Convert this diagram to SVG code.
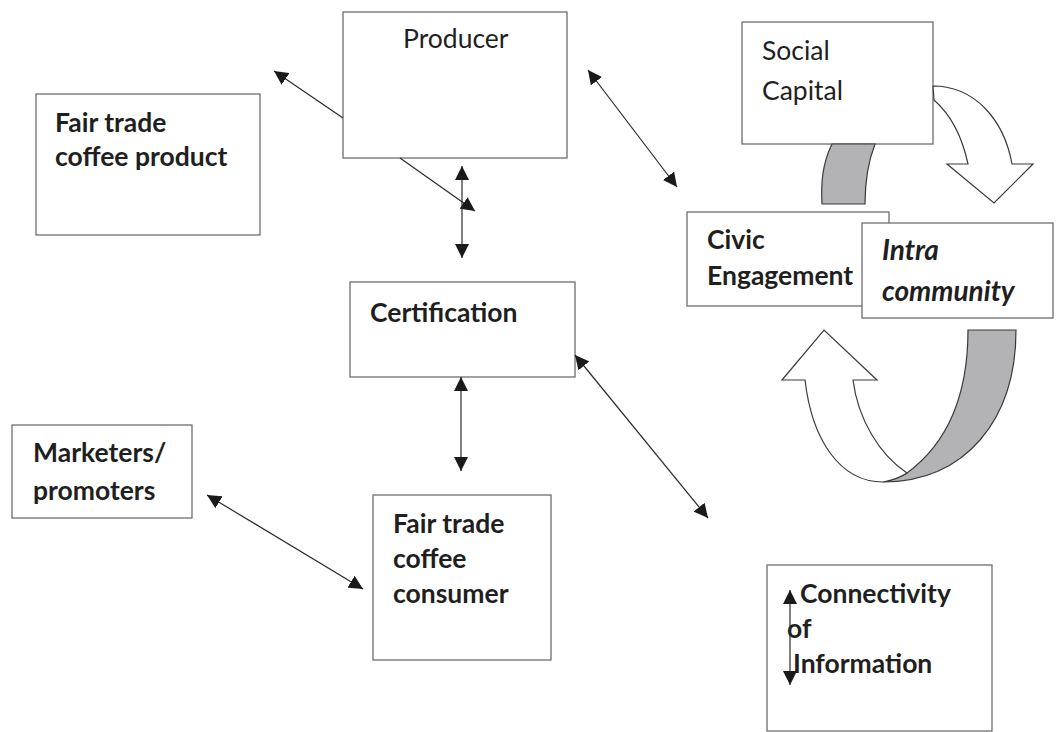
<svg xmlns="http://www.w3.org/2000/svg" width="1057" height="732" viewBox="0 0 1057 732">
<defs>
<style>
.box{fill:#fff;stroke:#6e6e6e;stroke-width:1.3}
.t{font-family:Lato,"Liberation Sans",sans-serif;font-size:26.5px;fill:#1f1f1f}
.b{font-weight:bold}
.i{font-style:italic;font-size:28px}
.ln{stroke:#2a2a2a;stroke-width:1.2;fill:none}
.cw{fill:#fff;stroke:#3a3a3a;stroke-width:1.2}
.cg{fill:#b3b3b6;stroke:#3a3a3a;stroke-width:1.2}
</style>
<marker id="ah" viewBox="0 0 10 10" refX="10" refY="5" markerWidth="14" markerHeight="14" markerUnits="userSpaceOnUse" orient="auto-start-reverse">
<path d="M0,0 L10,5 L0,10 Z" fill="#1a1a1a"/>
</marker>
</defs>
<rect width="1057" height="732" fill="#fff"/>

<g id="producer"><rect class="box" x="343" y="12" width="224" height="146"/><text class="t" x="403" y="48">Producer</text></g>
<g id="product"><rect class="box" x="36" y="94" width="224" height="141"/><text class="t b" x="55" y="132">Fair trade</text><text class="t b" x="55" y="166">coffee product</text></g>
<g id="social"><rect class="box" x="742" y="22" width="191" height="122"/><text class="t" x="762" y="60">Social</text><text class="t" x="762" y="100">Capital</text></g>
<g id="civic"><rect class="box" x="687" y="212" width="202" height="94"/><text class="t b" x="707" y="249">Civic</text><text class="t b" x="707" y="285">Engagement</text></g>
<g id="intra"><rect class="box" x="862" y="223" width="191" height="95"/><text class="t b i" x="882" y="260">Intra</text><text class="t b i" x="882" y="301">community</text></g>
<g id="certification"><rect class="box" x="350" y="282" width="225" height="95"/><text class="t b" x="370" y="322">Certification</text></g>
<g id="marketers"><rect class="box" x="12" y="425" width="180" height="93"/><text class="t b" x="33" y="462">Marketers/</text><text class="t b" x="33" y="500">promoters</text></g>
<g id="consumer"><rect class="box" x="373" y="495" width="178" height="165"/><text class="t b" x="393" y="533">Fair trade</text><text class="t b" x="393" y="568">coffee</text><text class="t b" x="393" y="603">consumer</text></g>
<g id="connectivity"><rect class="box" x="767" y="565" width="225" height="166"/><text class="t b" x="800" y="603">Connectivity</text><text class="t b" x="787" y="638">of</text><text class="t b" x="793" y="673">Information</text><line class="ln" x1="790" y1="590" x2="790" y2="685" marker-start="url(#ah)" marker-end="url(#ah)"/></g>

<g id="cycle">
<path class="cw" d="M933,86 C975,86 1004,120 1012,164 L1033,164 L994,203 L947,164 L968,164 C962,136 950,114 934,100 Z"/>
<path class="cg" d="M832,144 C822,164 821,184 822,204 L865,204 C865,182 868,162 875,144 Z"/>
<path class="cg" d="M968,330 L1016,330 C1016,420 965,482 883,482 C893,480 901,477 907,473 C945,445 968,400 968,330 Z"/>
<path class="cw" d="M883,482 C840,482 812,440 805,380 L782,380 L824,330 L877,380 L853,380 C858,420 880,455 907,473 C901,477 893,480 883,482 Z"/>
</g>

<g id="connectors">
<line class="ln" x1="343" y1="118" x2="274" y2="71" marker-end="url(#ah)"/>
<line class="ln" x1="400" y1="158" x2="475" y2="211" marker-end="url(#ah)"/>
<line class="ln" x1="462" y1="166" x2="462" y2="258" marker-start="url(#ah)" marker-end="url(#ah)"/>
<line class="ln" x1="588" y1="70" x2="677" y2="187" marker-start="url(#ah)" marker-end="url(#ah)"/>
<line class="ln" x1="461" y1="377" x2="461" y2="471" marker-start="url(#ah)" marker-end="url(#ah)"/>
<line class="ln" x1="575" y1="355" x2="708" y2="518" marker-start="url(#ah)" marker-end="url(#ah)"/>
<line class="ln" x1="207" y1="495" x2="363" y2="589" marker-start="url(#ah)" marker-end="url(#ah)"/>
</g>
</svg>
